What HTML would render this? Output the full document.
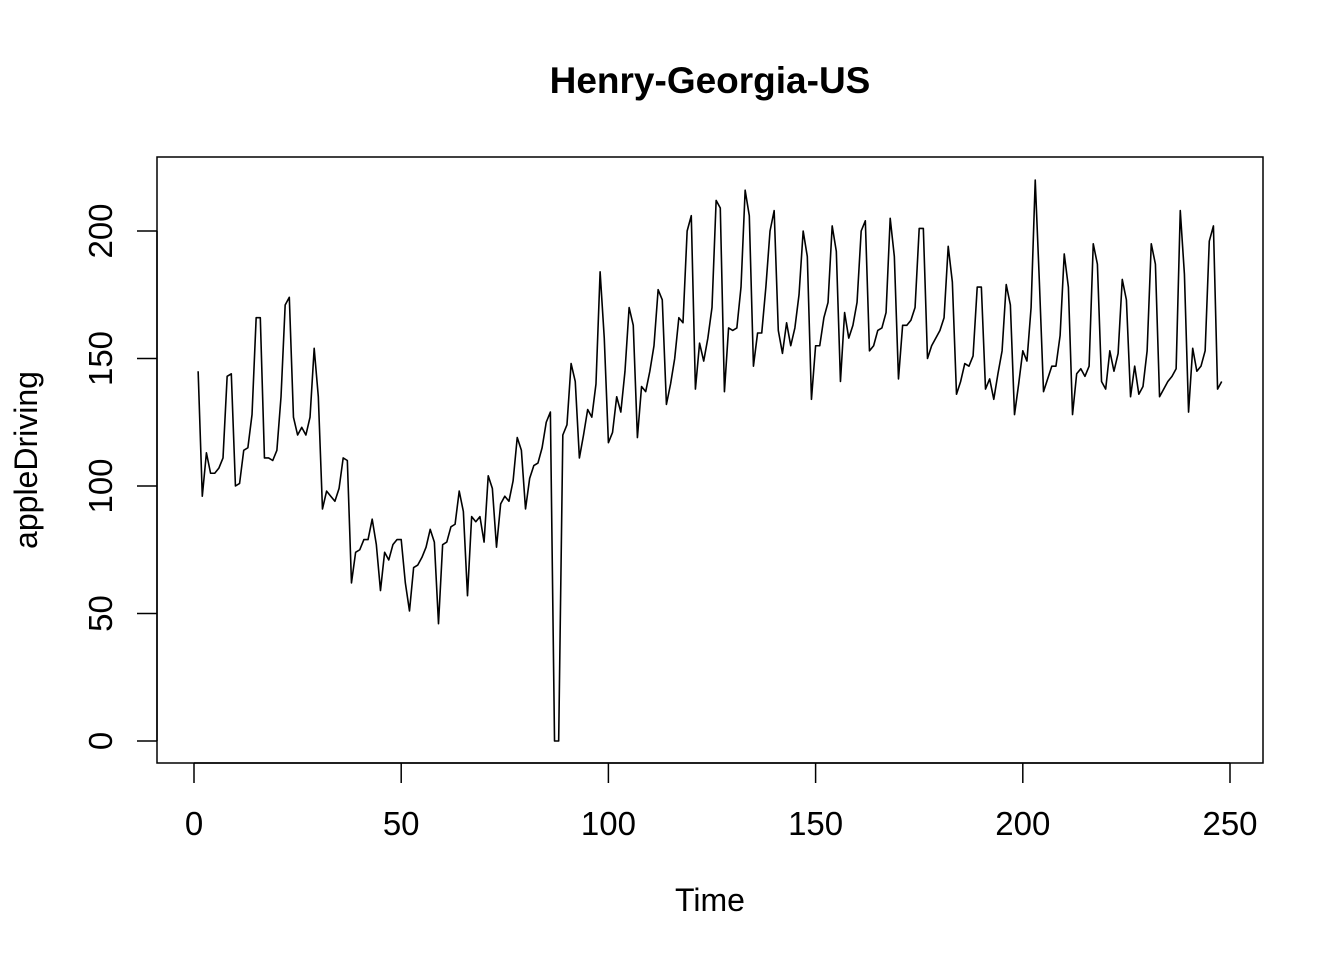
<!DOCTYPE html>
<html><head><meta charset="utf-8"><style>
body{margin:0;background:#fff;}
svg{display:block;font-family:"Liberation Sans",Arial,sans-serif;}
</style></head><body>
<svg id="chart" width="1344" height="960" viewBox="0 0 1344 960">
<rect width="1344" height="960" fill="#fff"/>
<text x="710" y="93" text-anchor="middle" font-size="37" font-weight="bold">Henry-Georgia-US</text>
<rect x="157" y="157" width="1106" height="606" fill="none" stroke="#000" stroke-width="1.5"/>
<text x="710" y="911" text-anchor="middle" font-size="32">Time</text>
<text transform="translate(37,460) rotate(-90)" text-anchor="middle" font-size="32">appleDriving</text>
<g id="xaxis"></g>
<g id="yaxis"></g>
<path id="series" fill="none" stroke="#000" stroke-width="1.6" stroke-linejoin="round"/>
</svg>
<script>
const xTicks=[0,50,100,150,200,250];
const yTicks=[0,50,100,150,200];
const values=[145,96,113,105,105,107,111,143,144,100,101,114,115,128,166,166,111,111,110,114,135,171,174,127,120,123,120,127,154,135,
91,98,96,94,99,111,110,62,74,75,79,79,87,77,59,74,71,77,79,79,62,51,68,69,72,76,83,78,46,77,
78,84,85,98,90,57,88,86,88,78,104,99,76,93,96,94,102,119,114,91,103,108,109,115,125,129,0,0,120,124,
148,141,111,120,130,127,140,184,158,117,121,135,129,145,170,163,119,139,137,145,155,177,173,132,140,150,166,164,200,206,
138,156,149,158,170,212,209,137,162,161,162,178,216,206,147,160,160,178,200,208,161,152,164,155,162,175,200,190,134,155,
155,166,172,202,192,141,168,158,163,172,200,204,153,155,161,162,168,205,190,142,163,163,165,170,201,201,150,155,158,161,
166,194,180,136,141,148,147,151,178,178,138,142,134,144,153,179,171,128,140,153,149,170,220,180,137,142,147,147,159,191,
178,128,144,146,143,147,195,187,141,138,153,145,152,181,173,135,147,136,139,153,195,187,135,138,141,143,146,208,183,129,
154,145,147,153,196,202,138,141];
const NS="http://www.w3.org/2000/svg";
const xs=t=>194+t*(1230-194)/250;
const ys=v=>741-v*(741-231)/200;
let d="";
values.forEach((v,i)=>{d+=(i?"L":"M")+xs(i+1).toFixed(2)+","+ys(v).toFixed(2);});
document.getElementById("series").setAttribute("d",d);
const xa=document.getElementById("xaxis");
let ln=document.createElementNS(NS,"line");
ln.setAttribute("x1",xs(xTicks[0]));ln.setAttribute("x2",xs(xTicks[xTicks.length-1]));
ln.setAttribute("y1",763);ln.setAttribute("y2",763);ln.setAttribute("stroke","#000");ln.setAttribute("stroke-width","1.5");


xa.appendChild(ln);
xTicks.forEach(t=>{
 const tk=document.createElementNS(NS,"line");
 tk.setAttribute("x1",xs(t));tk.setAttribute("x2",xs(t));tk.setAttribute("y1",763);tk.setAttribute("y2",783);
 tk.setAttribute("stroke","#000");tk.setAttribute("stroke-width","1.5");
 
 
 xa.appendChild(tk);
 const tx=document.createElementNS(NS,"text");
 tx.setAttribute("x",xs(t));tx.setAttribute("y",835);tx.setAttribute("text-anchor","middle");tx.setAttribute("font-size","33");
 tx.textContent=t;
 
 
 xa.appendChild(tx);
});
const ya=document.getElementById("yaxis");
let yl=document.createElementNS(NS,"line");
yl.setAttribute("x1",157);yl.setAttribute("x2",157);
yl.setAttribute("y1",ys(yTicks[0]));yl.setAttribute("y2",ys(yTicks[yTicks.length-1]));
yl.setAttribute("stroke","#000");yl.setAttribute("stroke-width","1.5");


ya.appendChild(yl);
yTicks.forEach(v=>{
 const tk=document.createElementNS(NS,"line");
 tk.setAttribute("x1",137);tk.setAttribute("x2",157);tk.setAttribute("y1",ys(v));tk.setAttribute("y2",ys(v));
 tk.setAttribute("stroke","#000");tk.setAttribute("stroke-width","1.5");
 
 
 ya.appendChild(tk);
 const tx=document.createElementNS(NS,"text");
 tx.setAttribute("transform","translate(112,"+ys(v)+") rotate(-90)");
 tx.setAttribute("text-anchor","middle");tx.setAttribute("font-size","33");
 tx.textContent=v;
 
 
 ya.appendChild(tx);
});
</script>
</body></html>
